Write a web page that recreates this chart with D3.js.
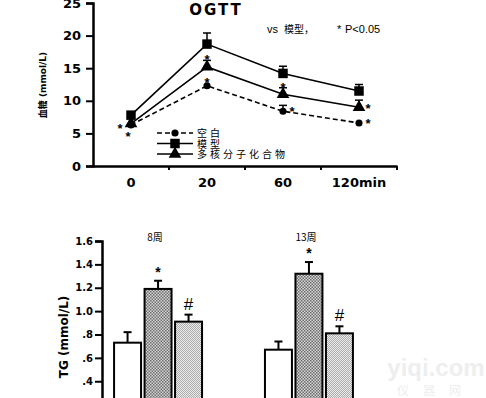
<!DOCTYPE html>
<html>
<head>
<meta charset="utf-8">
<script src="https://cdn.jsdelivr.net/npm/d3@7"></script>
<style>
  body { margin: 0; background: #fff; }
  svg { display: block; font-family: "DejaVu Sans", "Liberation Sans", sans-serif; }
  .cjk { font-family: "Noto Sans CJK SC", sans-serif; }
</style>
</head>
<body>
<div id="root"></div>
<script>
// OGTT data (blood glucose, mmol/L)
const times = ["0", "20", "60", "120min"];
const lineSeries = ["空白", "模型", "多核分子化合物"];
const blankVals = [6.3, 12.3, 8.4, 6.6];
const blankErr = [0, 0, 0.9, 0];
const modelVals = [7.8, 18.7, 14.2, 11.5];
const modelErr = [0, 1.7, 1.1, 1.0];
const compVals = [6.5, 15.2, 11.0, 9.0];
const compErr = [0, 1.0, 1.0, 1.1];
const glucoseTicks = [0, 5, 10, 15, 20, 25];

// TG data (mmol/L)
const weeks = ["8周", "13周"];
const barGroups = ["空白", "模型", "多核分子化合物"];
const tg8 = [0.73, 1.19, 0.91];
const tg8Err = [0.09, 0.07, 0.06];
const tg13 = [0.67, 1.32, 0.81];
const tg13Err = [0.07, 0.1, 0.06];
const tgTicks = [0.4, 0.6, 0.8, 1.0, 1.2, 1.4, 1.6];
const tgMarks8 = ["", "*", "#"];
const tgMarks13 = ["", "*", "#"];

const width = 486;
const height = 398;

const svg = d3.select("#root").append("svg")
  .attr("width", width)
  .attr("height", height);

const defs = svg.append("defs");
const dark = defs.append("pattern").attr("id", "dark")
  .attr("width", 3).attr("height", 3).attr("patternUnits", "userSpaceOnUse");
dark.append("rect").attr("width", 3).attr("height", 3).attr("fill", "#d8d8d8");
dark.append("rect").attr("width", 1.5).attr("height", 1.5).attr("fill", "#6a6a6a");
dark.append("rect").attr("x", 1.5).attr("y", 1.5).attr("width", 1.5).attr("height", 1.5).attr("fill", "#6a6a6a");
const light = defs.append("pattern").attr("id", "light")
  .attr("width", 2).attr("height", 2).attr("patternUnits", "userSpaceOnUse");
light.append("rect").attr("width", 2).attr("height", 2).attr("fill", "#f0f0f0");
light.append("rect").attr("width", 1).attr("height", 1).attr("fill", "#a8a8a8");
light.append("rect").attr("x", 1).attr("y", 1).attr("width", 1).attr("height", 1).attr("fill", "#a8a8a8");

// ---------- top: OGTT line chart ----------
const x = d3.scaleBand().domain(times).range([93, 397]);
const y = d3.scaleLinear().domain([0, 25]).range([166, 3]);
const cx = (t) => x(t) + x.bandwidth() / 2;

const yAxis = d3.axisLeft(y).tickValues(glucoseTicks).tickSize(7).tickPadding(5);
const gy = svg.append("g").attr("transform", "translate(93,0)").call(yAxis);
gy.select(".domain").attr("stroke-width", 2.5);
gy.selectAll(".tick line").attr("stroke-width", 2);
gy.selectAll("text").attr("font-size", 13).attr("font-weight", "bold").attr("fill", "#000")
  .attr("font-family", "DejaVu Sans");

const xAxis = d3.axisBottom(x).tickSize(0).tickPadding(12);
const gx = svg.append("g").attr("transform", "translate(0,166)").call(xAxis);
gx.select(".domain").attr("stroke-width", 2.5);
gx.selectAll("text").attr("font-size", 13).attr("font-weight", "bold").attr("fill", "#000")
  .attr("font-family", "DejaVu Sans");
gx.selectAll(".bound").data(times).enter().append("line")
  .attr("x1", (d, i) => x(times[0]) + x.step() * (i + 1))
  .attr("x2", (d, i) => x(times[0]) + x.step() * (i + 1))
  .attr("y1", 0).attr("y2", 4)
  .attr("stroke", "#000").attr("stroke-width", 2);

svg.append("text")
  .attr("transform", "translate(46,85) rotate(-90)")
  .attr("text-anchor", "middle")
  .attr("font-size", 9).attr("font-weight", "bold")
  .html('<tspan class="cjk">血糖</tspan> (mmol/L)');

svg.append("text").attr("x", 216).attr("y", 15)
  .attr("text-anchor", "middle").attr("font-size", 15).attr("font-weight", "bold")
  .attr("letter-spacing", 2)
  .text("OGTT");
const note = svg.append("text").attr("y", 33).attr("font-size", 11)
  .attr("font-family", "Liberation Sans");
note.append("tspan").attr("x", 267).text("vs");
note.append("tspan").attr("x", 284).attr("class", "cjk").attr("font-size", 10).text("模型，");
note.append("tspan").attr("x", 337).text("*");
note.append("tspan").attr("x", 345).text("P<0.05");

const lines = [
  { vals: modelVals, err: modelErr, dash: null, shape: d3.symbolSquare, size: 90 },
  { vals: compVals, err: compErr, dash: null, shape: d3.symbolTriangle, size: 70 },
  { vals: blankVals, err: blankErr, dash: "5,3", shape: d3.symbolCircle, size: 40 }
];
const line = d3.line().x((d, i) => cx(times[i])).y((d) => y(d));

lines.forEach((s) => {
  svg.append("path").datum(s.vals)
    .attr("d", line).attr("fill", "none")
    .attr("stroke", "#000").attr("stroke-width", 1.6)
    .attr("stroke-dasharray", s.dash);
  s.vals.forEach((v, i) => {
    if (s.err[i] > 0) {
      const px = cx(times[i]);
      svg.append("line").attr("x1", px).attr("x2", px)
        .attr("y1", y(v)).attr("y2", y(v + s.err[i]))
        .attr("stroke", "#000").attr("stroke-width", 1.5);
      svg.append("line").attr("x1", px - 4).attr("x2", px + 4)
        .attr("y1", y(v + s.err[i])).attr("y2", y(v + s.err[i]))
        .attr("stroke", "#000").attr("stroke-width", 1.5);
    }
    svg.append("path")
      .attr("d", d3.symbol().type(s.shape).size(s.size)())
      .attr("transform", `translate(${cx(times[i])},${y(v)})`)
      .attr("fill", "#000");
  });
});

// significance stars near points
const stars = [
  [times[0], blankVals[0], -11, 2],
  [times[0], blankVals[0], -3, 10],
  [times[1], modelVals[1], 0, 14],
  [times[1], compVals[1], 0, 14],
  [times[2], compVals[2], 0, -8],
  [times[2], blankVals[2], 9, -1],
  [times[3], compVals[3], 9, 0],
  [times[3], blankVals[3], 9, -1]
];
svg.selectAll(".star").data(stars).enter().append("text")
  .attr("x", (d) => cx(d[0]) + d[2])
  .attr("y", (d) => y(d[1]) + d[3] + 6)
  .attr("text-anchor", "middle").attr("font-size", 13).attr("font-weight", "bold")
  .attr("font-family", "Liberation Sans")
  .text("*");

// legend: 空白, 模型, 多核分子化合物
const legendItems = [lines[2], lines[0], lines[1]];
legendItems.forEach((s, i) => {
  const ly = 133 + i * 10.5;
  svg.append("line").attr("x1", 157).attr("x2", 193).attr("y1", ly).attr("y2", ly)
    .attr("stroke", "#000").attr("stroke-width", 1.6).attr("stroke-dasharray", s.dash);
  svg.append("path").attr("d", d3.symbol().type(s.shape).size(s.size)())
    .attr("transform", `translate(175,${ly})`).attr("fill", "#000");
  svg.append("text").attr("class", "cjk").attr("x", 197).attr("y", ly + 4)
    .attr("font-size", 10).attr("letter-spacing", 3).text(lineSeries[i]);
});

// ---------- bottom: TG bar chart ----------
const yb = d3.scaleLinear().domain([0, 1.6]).range([428, 241]);
const xg = d3.scaleBand().domain(weeks).range([102, 365]).paddingInner(0.417).paddingOuter(0.08);
const xb = d3.scaleBand().domain(barGroups).range([0, xg.bandwidth()]).paddingInner(0.115);

const ybAxis = d3.axisLeft(yb).tickValues(tgTicks).tickSize(7).tickPadding(2)
  .tickFormat((d) => (d < 1 ? d3.format(".1f")(d).replace(/^0/, "") : d3.format(".1f")(d)));
const gyb = svg.append("g").attr("transform", "translate(102,0)").call(ybAxis);
gyb.select(".domain").attr("stroke-width", 2.5);
gyb.selectAll(".tick line").attr("stroke-width", 2);
gyb.selectAll("text").attr("font-size", 10).attr("font-weight", "bold").attr("fill", "#000")
  .attr("font-family", "DejaVu Sans");

svg.append("text")
  .attr("transform", "translate(68,337) rotate(-90)")
  .attr("text-anchor", "middle")
  .attr("font-size", 12).attr("font-weight", "bold")
  .text("TG (mmol/L)");

const fills = ["#fff", "url(#dark)", "url(#light)"];
[[tg8, tg8Err, tgMarks8], [tg13, tg13Err, tgMarks13]].forEach((grp, gi) => {
  const g = svg.append("g").attr("transform", `translate(${xg(weeks[gi])},0)`);
  g.selectAll(".err").data(grp[0]).enter().append("line")
    .attr("x1", (d, i) => xb(barGroups[i]) + xb.bandwidth() / 2)
    .attr("x2", (d, i) => xb(barGroups[i]) + xb.bandwidth() / 2)
    .attr("y1", (d) => yb(d)).attr("y2", (d, i) => yb(d + grp[1][i]))
    .attr("stroke", "#000").attr("stroke-width", 2);
  g.selectAll(".cap").data(grp[0]).enter().append("line")
    .attr("x1", (d, i) => xb(barGroups[i]) + xb.bandwidth() / 2 - 4)
    .attr("x2", (d, i) => xb(barGroups[i]) + xb.bandwidth() / 2 + 4)
    .attr("y1", (d, i) => yb(d + grp[1][i])).attr("y2", (d, i) => yb(d + grp[1][i]))
    .attr("stroke", "#000").attr("stroke-width", 2);
  g.selectAll("rect").data(grp[0]).enter().append("rect")
    .attr("x", (d, i) => xb(barGroups[i]))
    .attr("y", (d) => yb(d))
    .attr("width", xb.bandwidth())
    .attr("height", (d) => yb(0) - yb(d))
    .attr("fill", (d, i) => fills[i])
    .attr("stroke", "#000").attr("stroke-width", 2);
  g.selectAll(".mark").data(grp[0]).enter().append("text")
    .attr("x", (d, i) => xb(barGroups[i]) + xb.bandwidth() / 2)
    .attr("y", (d, i) => yb(d + grp[1][i]) - (grp[2][i] === "*" ? 4 : 5))
    .attr("text-anchor", "middle")
    .attr("font-family", "Liberation Sans")
    .attr("font-weight", (d, i) => (grp[2][i] === "*" ? "bold" : "normal"))
    .attr("font-size", (d, i) => (grp[2][i] === "*" ? 14 : 17))
    .text((d, i) => grp[2][i]);
  svg.append("text").attr("class", "cjk")
    .attr("x", xg(weeks[gi]) + xg.bandwidth() / 2 - 3).attr("y", 241)
    .attr("text-anchor", "middle").attr("font-size", 10)
    .text(weeks[gi]);
});

// faint watermark
svg.append("text").attr("x", 436).attr("y", 376).attr("text-anchor", "middle")
  .attr("font-size", 24).attr("font-weight", "bold").attr("fill", "#eeeeee")
  .attr("font-family", "Liberation Sans")
  .text("yiqi.com");
svg.append("text").attr("class", "cjk").attr("x", 436).attr("y", 395).attr("text-anchor", "middle")
  .attr("font-size", 12).attr("letter-spacing", 14).attr("fill", "#eeeeee")
  .text("仪器网");
</script>
</body>
</html>
